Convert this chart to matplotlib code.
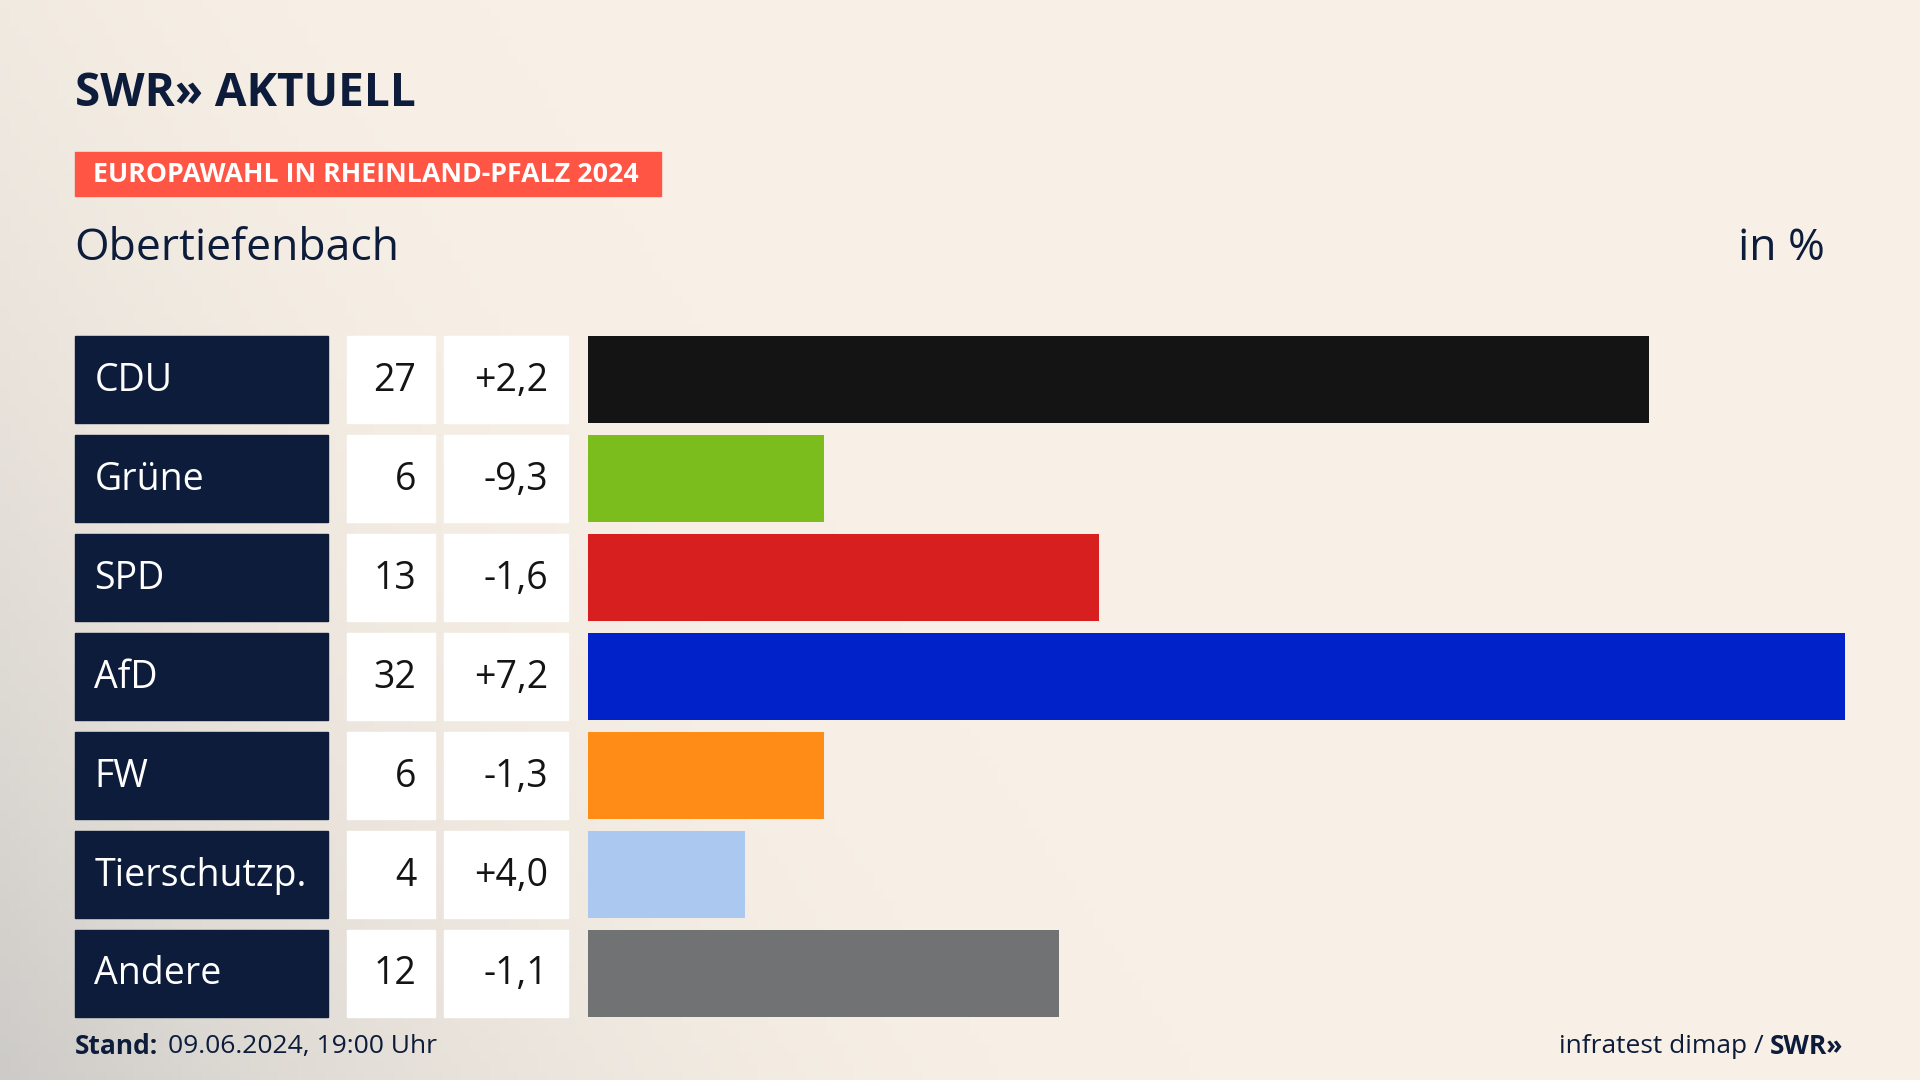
import numpy as np
import matplotlib
matplotlib.use("Agg")
from matplotlib import pyplot as plt
from matplotlib.patches import Rectangle

parties = ["CDU", "Grüne", "SPD", "AfD", "FW", "Tierschutzp.", "Andere"]
values = [27, 6, 13, 32, 6, 4, 12]
diffs = ["+2,2", "-9,3", "-1,6", "+7,2", "-1,3", "+4,0", "-1,1"]
colors = ["#141414", "#7abd1c", "#d81f1f", "#0022c8", "#ff8c17", "#abc8f0", "#707274"]

W, H = 1568, 882  # layout in reference pixels
plt.rcParams["font.family"] = "Open Sans"

fig = plt.figure(figsize=(19.2, 10.8), dpi=100)

# background with soft grey shading at the left/bottom
bg = fig.add_axes([0, 0, 1, 1])
xx, yy = np.meshgrid(np.linspace(0, 1, 200), np.linspace(0, 1, 120))
shade = np.clip(1.0 - (xx * 1.6 + (1 - yy) * 0.6), 0, 1) ** 2
base = np.array([248, 240, 230]) / 255
grey = np.array([205, 203, 200]) / 255
img = base[None, None, :] * (1 - shade[..., None]) + grey[None, None, :] * shade[..., None]
bg.imshow(img, extent=[0, W, H, 0], aspect="auto")
bg.set_xlim(0, W)
bg.set_ylim(H, 0)
bg.axis("off")

# header
bg.text(61, 76, "SWR» AKTUELL", fontsize=33, fontweight="bold", color="#0c1c3a", va="center")
bg.add_patch(Rectangle((61, 124), 479, 36, color="#ff5544"))
bg.text(76, 143, "EUROPAWAHL IN RHEINLAND-PFALZ 2024", fontsize=19.3, fontweight="bold",
        color="white", va="center")
bg.text(61, 203, "Obertiefenbach", fontsize=32, color="#0c1c3a", va="center")
bg.text(1490, 203, "in %", fontsize=32, color="#0c1c3a", va="center", ha="right")

# rows
top, pitch, rh = 274.5, 80.8, 71
for i, (p, v, d) in enumerate(zip(parties, values, diffs)):
    y = top + i * pitch
    bg.add_patch(Rectangle((61, y), 207, rh, color="#0c1c3a"))
    bg.add_patch(Rectangle((283, y), 72, rh, color="white"))
    bg.add_patch(Rectangle((363, y), 101, rh, color="white"))
    cy = y + rh / 2 + 1
    bg.text(77, cy, p, fontsize=27, color="white", va="center")
    bg.text(340, cy, str(v), fontsize=27, color="#141414", va="center", ha="right")
    bg.text(448, cy, d, fontsize=27, color="#141414", va="center", ha="right")

# footer
bg.text(61, 855, "Stand:", fontsize=19, fontweight="bold", color="#0c1c3a", va="center")
bg.text(137, 855, "09.06.2024, 19:00 Uhr", fontsize=19, color="#0c1c3a", va="center")
bg.text(1440, 855, "infratest dimap /", fontsize=19, color="#0c1c3a", va="center", ha="right")
bg.text(1505, 855, "SWR»", fontsize=19, fontweight="bold", color="#0c1c3a", va="center", ha="right")

# bars in their own axes, 0..32 %
x0, x1 = 480, 1507
y_top, y_bot = top, top + 6 * pitch + rh
ax = fig.add_axes([x0 / W, 1 - y_bot / H, (x1 - x0) / W, (y_bot - y_top) / H])
ax.patch.set_alpha(0)
pos = np.arange(len(parties))
ax.barh(pos, values, height=rh / pitch, color=colors)
ax.set_xlim(0, 32)
ax.set_ylim(len(parties) - 1 + (rh / pitch) / 2, -(rh / pitch) / 2)
ax.axis("off")

fig.savefig("out.png", dpi=100)
